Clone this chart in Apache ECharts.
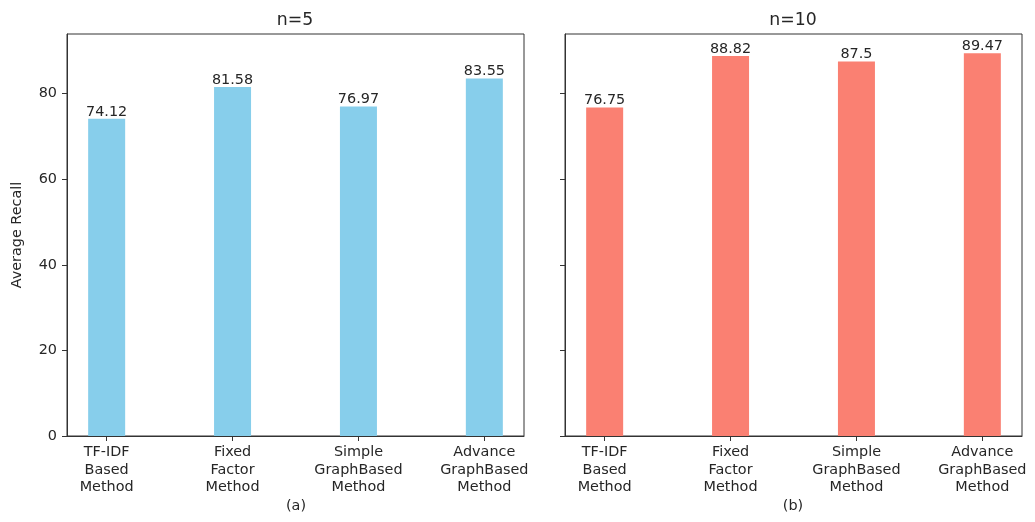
<!DOCTYPE html>
<html>
<head>
<meta charset="utf-8">
<script src="https://cdn.jsdelivr.net/npm/echarts@6/dist/echarts.min.js"></script>
<style>
  html, body { margin: 0; padding: 0; background: #fff; }
  #chart { width: 1035px; height: 522px; }
</style>
</head>
<body>
<div id="chart"></div>
<script>
// Methods compared in both panels
const methods = [
  'TF-IDF\nBased\nMethod',
  'Fixed\nFactor\nMethod',
  'Simple\nGraphBased\nMethod',
  'Advance\nGraphBased\nMethod'
];
// Average recall for top-5 and top-10
const recallN5 = [74.12, 81.58, 76.97, 83.55];
const recallN10 = [76.75, 88.82, 87.5, 89.47];
const yTicks = [0, 20, 40, 60, 80];
const panelTitles = ['n=5', 'n=10'];
const captions = ['(a)', '(b)'];

const FONT = 'DejaVu Sans';
const TEXT = '#262626';
const FS = 14.4;
const positions = methods.map((_, i) => i);

const chart = echarts.init(document.getElementById('chart'), null, { renderer: 'canvas' });

const grids = [
  { left: 67, top: 34, width: 457, height: 402 },
  { left: 565, top: 34, width: 457, height: 402 }
];

function xAxisFor(idx) {
  return {
    type: 'value', gridIndex: idx, min: -0.315, max: 3.315,
    axisLine: { show: true, onZero: false, lineStyle: { color: '#333', width: 1 } },
    splitLine: { show: false },
    axisTick: { show: true, length: 5, customValues: positions, lineStyle: { color: '#333' } },
    axisLabel: {
      customValues: positions,
      formatter: v => methods[Math.round(v)] || '',
      fontFamily: FONT, fontSize: FS, color: TEXT, lineHeight: 17.5, margin: 8, align: 'center'
    }
  };
}

function yAxisFor(idx) {
  return {
    type: 'value', gridIndex: idx, min: 0, max: 93.94,
    name: idx === 0 ? 'Average Recall' : '',
    nameLocation: 'middle', nameGap: 43, nameRotate: 90,
    nameTextStyle: { fontFamily: FONT, fontSize: FS, color: TEXT },
    axisLine: { show: true, onZero: false, lineStyle: { color: '#333', width: 1 } },
    splitLine: { show: false },
    axisTick: { show: true, length: 5, customValues: yTicks, lineStyle: { color: '#333' } },
    axisLabel: {
      show: idx === 0, customValues: yTicks,
      fontFamily: FONT, fontSize: FS, color: TEXT, margin: 10
    }
  };
}

function barSeries(idx, values, color) {
  return {
    type: 'bar', xAxisIndex: idx, yAxisIndex: idx,
    data: values.map((v, i) => [positions[i], v]),
    barWidth: 37,
    itemStyle: { color: color },
    label: {
      show: true, position: 'top', distance: 0,
      formatter: p => String(p.value[1]),
      fontFamily: FONT, fontSize: FS, color: TEXT
    }
  };
}

const titleStyle = size => ({ fontFamily: FONT, fontSize: size, fontWeight: 'normal', color: TEXT });

const option = {
  backgroundColor: '#fff',
  animation: false,
  title: [
    { text: panelTitles[0], left: 295, top: 12, textAlign: 'center', padding: 0, textStyle: titleStyle(17.3) },
    { text: panelTitles[1], left: 793, top: 12, textAlign: 'center', padding: 0, textStyle: titleStyle(17.3) },
    { text: captions[0], left: 296, top: 499, textAlign: 'center', padding: 0, textStyle: titleStyle(FS) },
    { text: captions[1], left: 793, top: 499, textAlign: 'center', padding: 0, textStyle: titleStyle(FS) }
  ],
  grid: grids.map(g => Object.assign({ show: true, borderColor: '#333', borderWidth: 1, backgroundColor: 'transparent' }, g)),
  xAxis: [xAxisFor(0), xAxisFor(1)],
  yAxis: [yAxisFor(0), yAxisFor(1)],
  series: [
    barSeries(0, recallN5, '#87CEEB'),
    barSeries(1, recallN10, '#FA8072')
  ]
};

chart.setOption(option);
</script>
</body>
</html>
